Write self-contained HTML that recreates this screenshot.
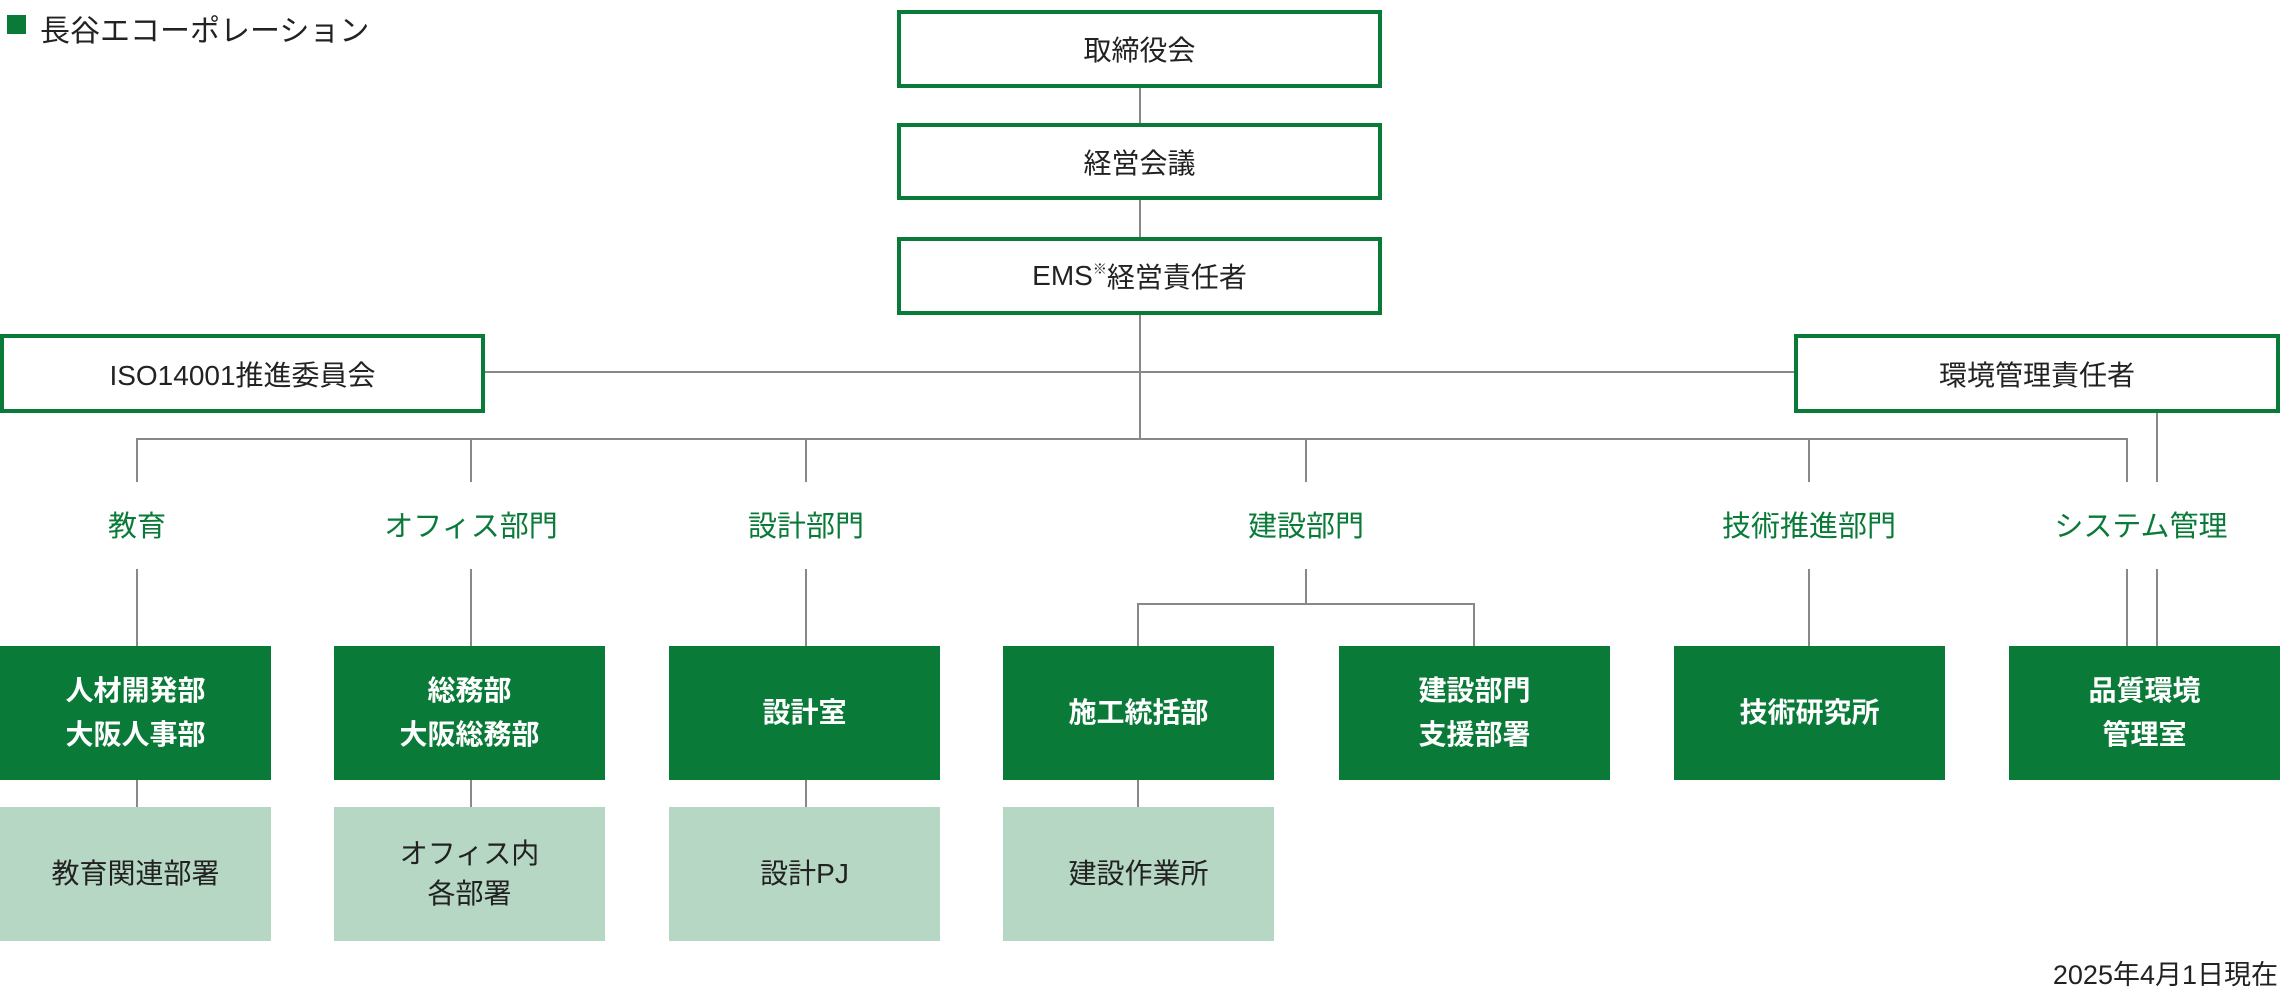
<!DOCTYPE html>
<html><head><meta charset="utf-8"><style>
body{margin:0;width:2280px;height:995px;background:#fff;position:relative;overflow:hidden;font-family:"Liberation Sans","Noto Sans CJK JP",sans-serif;color:#222}
.b{position:absolute;box-sizing:border-box;display:flex;align-items:center;justify-content:center;text-align:center}
.o{border:4px solid #0a7a38;background:#fff;font-size:28px}
.d{background:#0a7a38;color:#fff;font-weight:bold;font-size:28px;line-height:44px}
.l{background:#b5d7c4;font-size:28px;line-height:40px}
.g{position:absolute;color:#0a7a38;font-size:29px;transform:translateX(-50%);white-space:nowrap}
.h{position:absolute;background:#888;height:2px}
.v{position:absolute;background:#888;width:2px}
</style></head><body>
<div style="position:absolute;left:7px;top:15px;width:19px;height:19px;background:#0a7a38"></div>
<div style="position:absolute;left:40px;top:6px;font-size:30px">長谷エコーポレーション</div>

<div class="v" style="left:1139px;top:87px;height:352px"></div>
<div class="h" style="left:481px;top:371px;width:1315px"></div>
<div class="h" style="left:136px;top:438px;width:1992px"></div>
<div class="v" style="left:136px;top:438px;height:44px"></div>
<div class="v" style="left:470px;top:438px;height:44px"></div>
<div class="v" style="left:805px;top:438px;height:44px"></div>
<div class="v" style="left:1305px;top:438px;height:44px"></div>
<div class="v" style="left:1808px;top:438px;height:44px"></div>
<div class="v" style="left:2126px;top:438px;height:44px"></div>
<div class="v" style="left:2156px;top:412px;height:70px"></div>

<div class="v" style="left:136px;top:569px;height:78px"></div>
<div class="v" style="left:470px;top:569px;height:78px"></div>
<div class="v" style="left:805px;top:569px;height:78px"></div>
<div class="v" style="left:1305px;top:569px;height:36px"></div>
<div class="h" style="left:1137px;top:603px;width:338px"></div>
<div class="v" style="left:1137px;top:603px;height:44px"></div>
<div class="v" style="left:1473px;top:603px;height:44px"></div>
<div class="v" style="left:1808px;top:569px;height:78px"></div>
<div class="v" style="left:2126px;top:569px;height:78px"></div>
<div class="v" style="left:2156px;top:569px;height:78px"></div>

<div class="v" style="left:136px;top:780px;height:28px"></div>
<div class="v" style="left:470px;top:780px;height:28px"></div>
<div class="v" style="left:805px;top:780px;height:28px"></div>
<div class="v" style="left:1137px;top:780px;height:28px"></div>

<div class="b o" style="left:897px;top:10px;width:485px;height:78px">取締役会</div>
<div class="b o" style="left:897px;top:123px;width:485px;height:77px">経営会議</div>
<div class="b o" style="left:897px;top:237px;width:485px;height:78px">EMS<sup style="font-size:14px;align-self:flex-start;margin-top:18px">※</sup>経営責任者</div>
<div class="b o" style="left:0;top:334px;width:485px;height:79px">ISO14001推進委員会</div>
<div class="b o" style="left:1794px;top:334px;width:486px;height:79px">環境管理責任者</div>

<div class="g" style="left:137px;top:503px">教育</div>
<div class="g" style="left:471px;top:503px">オフィス部門</div>
<div class="g" style="left:806px;top:503px">設計部門</div>
<div class="g" style="left:1306px;top:503px">建設部門</div>
<div class="g" style="left:1809px;top:503px">技術推進部門</div>
<div class="g" style="left:2141px;top:503px">システム管理</div>

<div class="b d" style="left:0;top:646px;width:271px;height:134px">人材開発部<br>大阪人事部</div>
<div class="b d" style="left:334px;top:646px;width:271px;height:134px">総務部<br>大阪総務部</div>
<div class="b d" style="left:669px;top:646px;width:271px;height:134px">設計室</div>
<div class="b d" style="left:1003px;top:646px;width:271px;height:134px">施工統括部</div>
<div class="b d" style="left:1339px;top:646px;width:271px;height:134px">建設部門<br>支援部署</div>
<div class="b d" style="left:1674px;top:646px;width:271px;height:134px">技術研究所</div>
<div class="b d" style="left:2009px;top:646px;width:271px;height:134px">品質環境<br>管理室</div>

<div class="b l" style="left:0;top:807px;width:271px;height:134px">教育関連部署</div>
<div class="b l" style="left:334px;top:807px;width:271px;height:134px">オフィス内<br>各部署</div>
<div class="b l" style="left:669px;top:807px;width:271px;height:134px">設計PJ</div>
<div class="b l" style="left:1003px;top:807px;width:271px;height:134px">建設作業所</div>

<div style="position:absolute;right:2px;top:953px;font-size:27px">2025年4月1日現在</div>
</body></html>
